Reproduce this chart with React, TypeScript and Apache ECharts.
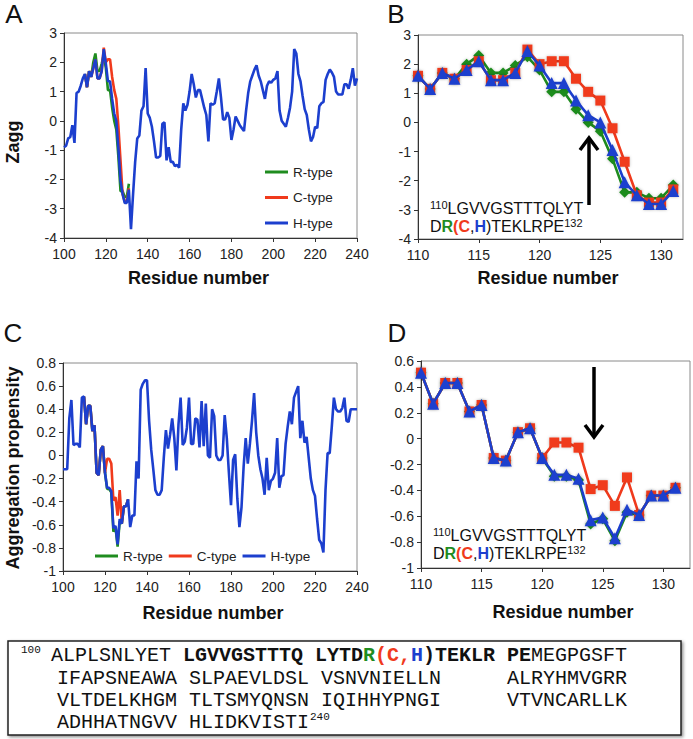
import React, { useEffect, useRef } from 'react';
import * as echarts from 'echarts';

// ---------- data ----------
const fullStart = 100; // first residue of panels A and C
const zoomStart = 110; // first residue of panels B and D
const typeNames = ['R-type', 'C-type', 'H-type'];

// Zagg, H-type, residues 100..240
const zaggH = [
  -0.9, -0.85, -0.6, -0.55, -0.15, -0.75, 0.95, 1.0, 1.2, 1.45,
  1.6, 1.15, 1.7, 1.5, 1.8, 2.1, 1.45, 1.45, 1.7, 2.45,
  1.95, 1.35, 1.35, 0.75, 0.25, 0.0, -0.95, -2.05, -2.5, -2.8,
  -2.8, -2.35, -3.7, -2.5, -1.4, -0.6, -0.5, 0.35, 0.5, 1.8,
  0.25, 0.1, -0.2, -0.7, -1.25, -1.25, -1.2, -0.1, -0.05, -1.35,
  -0.9, -1.4, -1.4, -1.55, -1.5, -1.6, -0.3, 0.6, 0.35, 0.55,
  1.0, 1.6, 1.25, 0.8, 1.05, 1.05, 0.75, 0.45, 0.2, -0.7,
  0.6, 0.55, 0.6, 1.0, 1.45, 0.8, 0.05, 0.05, 0.3, 0.1,
  -0.65, -0.3, 0.15, 0.0, -0.15, -0.25, -0.35, 0.35, 0.95, 1.35,
  1.55, 1.75, 1.9, 1.55, 1.35, 1.05, 0.75, 1.2, 1.35, 1.3,
  1.4, 1.45, 1.7, 0.35, 0.0, -0.1, -0.2, 0.1, 0.45, 1.0,
  2.45, 2.3, 1.6, 1.35, 0.85, 0.4, 0.2, -0.3, -0.7, -0.55,
  -0.2, -0.25, 0.5, 0.6, 0.65, 1.4, 1.6, 1.75, 1.65, 1.5,
  1.0, 0.9, 0.9, 0.9, 1.25, 1.25, 1.1, 1.4, 1.8, 1.2,
  1.45
];
// Zagg, residues 110..131
const zaggR = [1.6, 1.15, 1.7, 1.5, 2.0, 2.3, 1.7, 1.7, 1.95, 2.25, 1.8, 1.05, 1.05, 0.45, 0.0, -0.3, -1.25, -2.4, -2.4, -2.6, -2.6, -2.15];
const zaggC = [1.6, 1.15, 1.7, 1.5, 1.8, 2.1, 1.45, 1.45, 1.7, 2.5, 2.0, 2.1, 2.1, 1.5, 1.05, 0.75, -0.2, -1.35, -2.5, -2.75, -2.75, -2.3];

// Aggregation propensity, H-type, residues 100..240
const propH = [
  -0.12, -0.12, -0.12, 0.32, 0.48, 0.09, 0.1, 0.1, 0.07, 0.5,
  0.51, 0.27, 0.43, 0.43, 0.21, 0.26, -0.15, -0.17, 0.05, 0.08,
  -0.15, -0.28, -0.28, -0.31, -0.63, -0.61, -0.77, -0.55, -0.59, -0.44,
  -0.44, -0.38, -0.62, -0.52, -0.52, -0.05, -0.2, 0.57, 0.62, 0.65,
  0.65, 0.3, 0.05, -0.12, -0.3, -0.34, -0.34, -0.3, -0.02, 0.22,
  0.06, 0.18, 0.32, 0.15, -0.13, 0.27, 0.5, 0.09, 0.12, 0.24,
  0.5, 0.1, 0.1, 0.32, 0.31, 0.07, 0.47, 0.08, 0.45, 0.0,
  -0.02, 0.4, 0.34, 0.0, -0.04, -0.04, 0.0, 0.35, 0.15, -0.15,
  -0.43, -0.04, 0.01, -0.37, -0.62, -0.45, -0.1, 0.15, -0.07, 0.1,
  0.3, 0.54, 0.2, 0.0, -0.12, -0.2, -0.34, -0.02, -0.3, -0.22,
  -0.2, -0.15, 0.15, -0.28, -0.18, -0.17, 0.1, 0.25, 0.38, 0.27,
  0.5, 0.55, 0.6, 0.15, 0.3, 0.11, 0.16, -0.02, -0.2, -0.3,
  -0.35, -0.55, -0.73, -0.76, -0.84, -0.3, 0.02, 0.02, 0.25, 0.5,
  0.4, 0.38, 0.38, 0.41, 0.5, 0.3, 0.29, 0.4, 0.4, 0.4,
  0.4
];
// Aggregation propensity, residues 110..131
const propR = [0.51, 0.27, 0.43, 0.43, 0.21, 0.26, -0.15, -0.17, 0.05, 0.08, -0.15, -0.29, -0.29, -0.32, -0.66, -0.62, -0.79, -0.57, -0.59, -0.44, -0.44, -0.38];
const propC = [0.51, 0.27, 0.43, 0.43, 0.21, 0.26, -0.15, -0.17, 0.05, 0.08, -0.15, -0.03, -0.03, -0.07, -0.39, -0.36, -0.52, -0.3, -0.59, -0.44, -0.44, -0.38];

// sequence box
const seqStartNum = '100';
const seqEndNum = '240';
const seqRow1 = [
  ['n', 'ALPLSNLYET '],
  ['b', 'LGVVGSTTTQ LYTD'],
  ['g', 'R'],
  ['r', '(C,'],
  ['h', 'H'],
  ['b', ')TEKLR PE'],
  ['n', 'MEGPGSFT'],
];
const seqRowsLeft = ['IFAPSNEAWA SLPAEVLDSL VSNVNIELLN', 'VLTDELKHGM TLTSMYQNSN IQIHHYPNGI', 'ADHHATNGVV HLIDKVISTI'];
const seqRowsRight = ['ALRYHMVGRR', 'VTVNCARLLK'];

// ---------- styles ----------
const GREEN = '#1f8c1f';
const RED = '#f03a1c';
const BLUE = '#1c3fce';
const colors = [GREEN, RED, BLUE];
const symbols = ['diamond', 'rect', 'triangle'];
const symbolSizes = [11, 10, 12];
const SANS = '"Liberation Sans", Arial, sans-serif';
const MONO = '"Liberation Mono", "Courier New", monospace';

function pairs(start: number, values: number[]) {
  return values.map((v, i) => [start + i, v]);
}

const decimalFmt = (v: number) => String(Math.round(v * 10) / 10);

function xAxis(gridIndex: number, min: number, max: number, interval: number) {
  return {
    type: 'value', gridIndex, min, max, interval,
    axisLine: { show: true, onZero: false, lineStyle: { color: '#333', width: 1 } },
    axisTick: { show: true, length: 4, lineStyle: { color: '#333' } },
    splitLine: { show: false },
    axisLabel: {
      fontFamily: SANS, fontSize: 14, color: '#222', margin: 9,
      showMaxLabel: interval === 20,
      formatter: (v: number) => (v % interval === 0 ? String(v) : ''),
    },
  };
}
function yAxis(gridIndex: number, min: number, max: number, interval: number, fmt?: (v: number) => string) {
  return {
    type: 'value', gridIndex, min, max, interval,
    axisLine: { show: true, onZero: false, lineStyle: { color: '#333', width: 1 } },
    axisTick: { show: true, length: 4, lineStyle: { color: '#333' } },
    splitLine: { show: false },
    axisLabel: { fontFamily: SANS, fontSize: 14, color: '#222', margin: 7, formatter: fmt },
  };
}

function lineSeries(name: string, idx: number, data: number[][], colorIdx: number, markers: boolean) {
  return {
    type: 'line', name, xAxisIndex: idx, yAxisIndex: idx, data,
    showSymbol: markers, symbol: symbols[colorIdx], symbolSize: symbolSizes[colorIdx],
    lineStyle: { color: colors[colorIdx], width: 2.6 },
    itemStyle: { color: colors[colorIdx], shadowBlur: markers ? 3 : 0, shadowColor: 'rgba(0,0,0,0.25)' },
    emphasis: { disabled: true }, z: 2 + colorIdx,
  };
}

function panelLetter(t: string, x: number, y: number) {
  return { type: 'text', x, y, style: { text: t, font: `26px ${SANS}`, fill: '#111', align: 'center', verticalAlign: 'middle' } };
}
function axisTitle(t: string, x: number, y: number, rotate = false) {
  return {
    type: 'text', x, y, rotation: rotate ? Math.PI / 2 : 0,
    style: { text: t, font: `bold 18px ${SANS}`, fill: '#111', align: 'center', verticalAlign: 'middle' },
  };
}
function seqAnnotation(x: number, y: number) {
  const base = { fontFamily: SANS, fontSize: 16, lineHeight: 18, fill: '#111' };
  return {
    type: 'text', x, y,
    style: {
      text: '{s|110}{t|LGVVGSTTTQLYT}\n{t|D}{g|R}{r|(C}{t|,}{h|H}{t|)TEKLRPE}{s|132}',
      fontFamily: SANS, fontSize: 16, lineHeight: 18, align: 'left', verticalAlign: 'top',
      rich: {
        t: base,
        s: { fontFamily: SANS, fontSize: 11, lineHeight: 18, verticalAlign: 'top', fill: '#111' },
        g: { ...base, fill: GREEN, fontWeight: 'bold' },
        r: { ...base, fill: RED, fontWeight: 'bold' },
        h: { ...base, fill: BLUE, fontWeight: 'bold' },
      },
    },
  };
}
function arrow(x: number, yTail: number, yTip: number) {
  const dir = yTip < yTail ? 1 : -1; // 1 = up
  return [
    { type: 'line', shape: { x1: x, y1: yTail, x2: x, y2: yTip + dir * 1 }, style: { stroke: '#000', lineWidth: 3.5 } },
    { type: 'polyline', shape: { points: [[x - 9, yTip + dir * 12], [x, yTip], [x + 9, yTip + dir * 12]] }, style: { stroke: '#000', lineWidth: 3.5, fill: null } },
  ];
}

export default function App() {
  const ref = useRef<HTMLDivElement>(null);
  useEffect(() => {
    if (!ref.current) return;
    const chart = echarts.init(ref.current, null, { renderer: 'svg' });

    const cw = 12; // mono char width at 20px
    const boxX = 8, boxY = 641, boxW = 673, boxH = 94;
    const tx = 51; // first char of row 1
    const rowY = [655, 678, 700, 722];
    const monoBase = { fontFamily: MONO, fontSize: 20, fill: '#111' };

    const graphics: any[] = [
      panelLetter('A', 14, 13.5),
      panelLetter('B', 396, 13.5),
      panelLetter('C', 13, 333),
      panelLetter('D', 397, 333),
      axisTitle('Zagg', 13, 142, true),
      axisTitle('Aggregation propensity', 12.5, 468, true),
      axisTitle('Residue number', 198.5, 278),
      axisTitle('Residue number', 548, 278),
      axisTitle('Residue number', 213, 613),
      axisTitle('Residue number', 563, 612),
      seqAnnotation(430, 199),
      seqAnnotation(433, 526),
      ...arrow(589, 205, 138),
      ...arrow(594, 367, 437),
      {
        type: 'rect', shape: { x: boxX, y: boxY, width: boxW, height: boxH },
        style: { fill: '#fff', stroke: '#222', lineWidth: 1.5, shadowBlur: 3, shadowOffsetX: 1.5, shadowOffsetY: 1.5, shadowColor: 'rgba(0,0,0,0.45)' },
        z: 0,
      },
      {
        type: 'text', x: tx - 30, y: rowY[0] - 5, z: 2,
        style: { text: seqStartNum, fontFamily: MONO, fontSize: 11, fill: '#111', align: 'left', verticalAlign: 'middle' },
      },
      {
        type: 'text', x: tx, y: rowY[0], z: 2,
        style: {
          text: seqRow1.map(([k, s]) => `{${k}|${s}}`).join(''),
          ...monoBase, align: 'left', verticalAlign: 'middle',
          rich: {
            n: monoBase,
            b: { ...monoBase, fontWeight: 'bold' },
            g: { ...monoBase, fontWeight: 'bold', fill: GREEN },
            r: { ...monoBase, fontWeight: 'bold', fill: RED },
            h: { ...monoBase, fontWeight: 'bold', fill: BLUE },
          },
        },
      },
      ...seqRowsLeft.map((s, i) => ({
        type: 'text', x: tx + cw * 0.5, y: rowY[i + 1], z: 2,
        style: { text: s, ...monoBase, align: 'left', verticalAlign: 'middle' },
      })),
      ...seqRowsRight.map((s, i) => ({
        type: 'text', x: tx + cw * 38, y: rowY[i + 1], z: 2,
        style: { text: s, ...monoBase, align: 'left', verticalAlign: 'middle' },
      })),
      {
        type: 'text', x: tx + cw * 0.5 + cw * seqRowsLeft[2].length + 1, y: rowY[3] - 5, z: 2,
        style: { text: seqEndNum, fontFamily: MONO, fontSize: 11, fill: '#111', align: 'left', verticalAlign: 'middle' },
      },
    ];

    const legendBase = {
      data: typeNames, icon: 'rect', itemWidth: 23, itemHeight: 3, padding: 0, selectedMode: false,
      textStyle: { fontFamily: SANS, fontSize: 13.5, color: '#222', lineHeight: 16 },
    };

    const option: any = {
      animation: false,
      backgroundColor: '#fff',
      grid: [
        { left: 64, top: 33, width: 293, height: 205, show: true, borderColor: '#8a8a8a', borderWidth: 1 },
        { left: 418, top: 35, width: 265, height: 204, show: true, borderColor: '#8a8a8a', borderWidth: 1 },
        { left: 63, top: 363, width: 294, height: 208, show: true, borderColor: '#8a8a8a', borderWidth: 1 },
        { left: 421, top: 361, width: 269, height: 207, show: true, borderColor: '#8a8a8a', borderWidth: 1 },
      ],
      xAxis: [
        xAxis(0, 100, 240, 20),
        xAxis(1, 110, 131.8, 5),
        xAxis(2, 100, 240, 20),
        xAxis(3, 110, 132.2, 5),
      ],
      yAxis: [
        yAxis(0, -4, 3, 1),
        yAxis(1, -4, 3, 1),
        yAxis(2, -1, 0.8, 0.2, decimalFmt),
        yAxis(3, -1, 0.6, 0.2, decimalFmt),
      ],
      legend: [
        { ...legendBase, orient: 'vertical', left: 265, top: 164, itemGap: 9.5 },
        { ...legendBase, orient: 'horizontal', left: 95, top: 548, itemGap: 6 },
      ],
      series: [
        lineSeries(typeNames[0], 0, pairs(zoomStart, zaggR), 0, false),
        lineSeries(typeNames[1], 0, pairs(zoomStart, zaggC), 1, false),
        lineSeries(typeNames[2], 0, pairs(fullStart, zaggH), 2, false),
        lineSeries(typeNames[0], 1, pairs(zoomStart, zaggR), 0, true),
        lineSeries(typeNames[1], 1, pairs(zoomStart, zaggC), 1, true),
        lineSeries(typeNames[2], 1, pairs(zoomStart, zaggH.slice(zoomStart - fullStart, zoomStart - fullStart + zaggR.length)), 2, true),
        lineSeries(typeNames[0], 2, pairs(zoomStart, propR), 0, false),
        lineSeries(typeNames[1], 2, pairs(zoomStart, propC), 1, false),
        lineSeries(typeNames[2], 2, pairs(fullStart, propH), 2, false),
        lineSeries(typeNames[0], 3, pairs(zoomStart, propR), 0, true),
        lineSeries(typeNames[1], 3, pairs(zoomStart, propC), 1, true),
        lineSeries(typeNames[2], 3, pairs(zoomStart, propH.slice(zoomStart - fullStart, zoomStart - fullStart + propR.length)), 2, true),
      ],
      graphic: { elements: graphics },
    };
    chart.setOption(option);
    return () => chart.dispose();
  }, []);
  return <div ref={ref} style={{ position: 'absolute', left: 0, top: 0, width: 693, height: 739, background: '#fff' }} />;
}
